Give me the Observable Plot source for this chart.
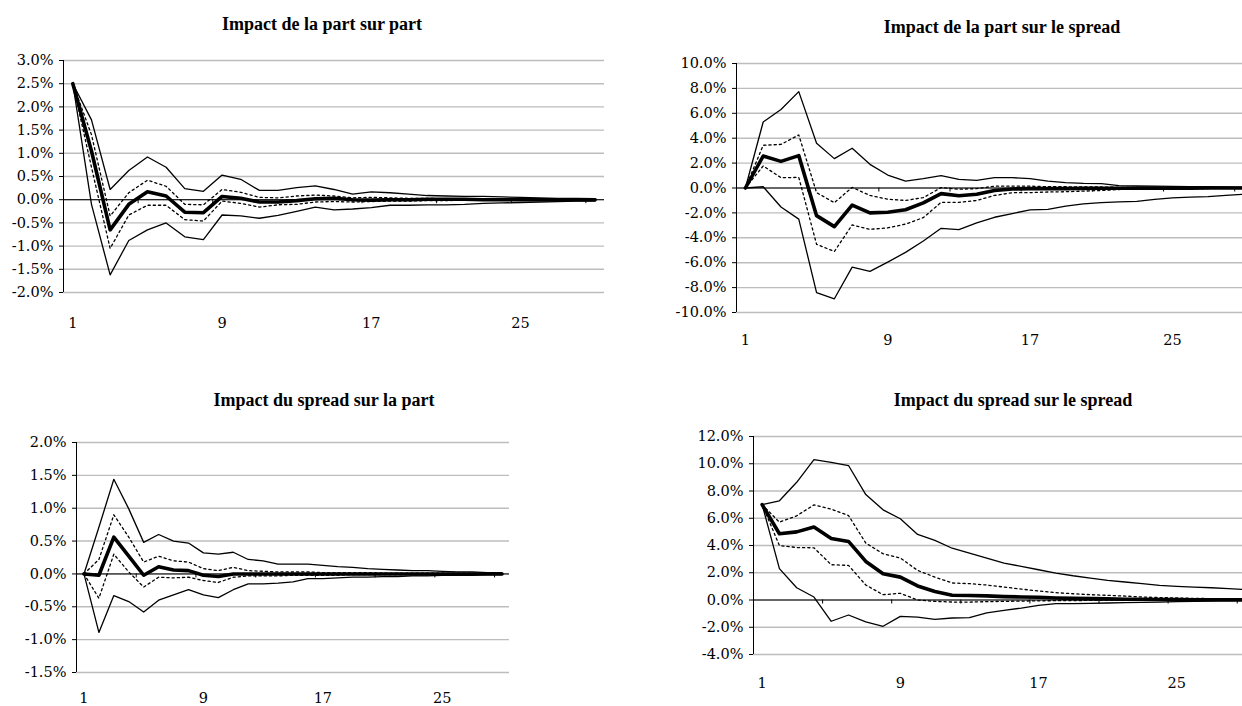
<!DOCTYPE html>
<html><head><meta charset="utf-8">
<script src="https://cdn.jsdelivr.net/npm/d3@7"></script>
<script src="https://cdn.jsdelivr.net/npm/@observablehq/plot@0.6"></script>
<style>
html,body{margin:0;padding:0;background:#fff;overflow:hidden;width:1242px;height:706px;}
body{position:relative;}
.panel{position:absolute;}
.title{position:absolute;font-family:"Liberation Serif",serif;font-weight:bold;font-size:18px;white-space:nowrap;transform:translate(-50%,-50%);color:#000;}
</style></head><body>
<script>
// ---------- data ----------
const periods = d3.range(1, 30); // 1..29
const xTickLabels = [1, 9, 17, 25];
const xTickMarks = [0.5, 4.5, 8.5, 12.5, 16.5, 20.5, 24.5, 28.5];

const titles = [
  "Impact de la part sur part",
  "Impact de la part sur le spread",
  "Impact du spread sur la part",
  "Impact du spread sur le spread"
];

const yTicksPP = [-2, -1.5, -1, -0.5, 0, 0.5, 1, 1.5, 2, 2.5, 3];
const yTicksPS = [-10, -8, -6, -4, -2, 0, 2, 4, 6, 8, 10];
const yTicksSP = [-1.5, -1, -0.5, 0, 0.5, 1, 1.5, 2];
const yTicksSS = [-4, -2, 0, 2, 4, 6, 8, 10, 12];

// Impact de la part sur part (%)
const ppCentral  = [2.5, 1.05, -0.65, -0.1, 0.17, 0.08, -0.27, -0.28, 0.07, 0.03, -0.05, -0.05, -0.02, 0.02, 0.03, 0.0, -0.01, 0.0, 0.0, 0.01, 0.01, 0.01, 0.0, 0.0, 0.0, 0.0, 0.0, 0.0, 0.0];
const ppUpper    = [2.5, 1.72, 0.22, 0.63, 0.92, 0.70, 0.24, 0.18, 0.53, 0.44, 0.2, 0.2, 0.26, 0.3, 0.22, 0.12, 0.17, 0.15, 0.12, 0.09, 0.08, 0.07, 0.07, 0.06, 0.05, 0.04, 0.03, 0.03, 0.02];
const ppLower    = [2.5, -0.1, -1.62, -0.88, -0.65, -0.5, -0.8, -0.86, -0.33, -0.35, -0.4, -0.34, -0.25, -0.16, -0.22, -0.2, -0.17, -0.12, -0.12, -0.11, -0.11, -0.1, -0.08, -0.07, -0.06, -0.05, -0.04, -0.03, -0.03];
const ppUpperDot = [2.5, 1.4, -0.35, 0.15, 0.42, 0.29, -0.1, -0.11, 0.22, 0.16, 0.05, 0.04, 0.08, 0.1, 0.08, 0.04, 0.05, 0.04, 0.03, 0.03, 0.02, 0.02, 0.02, 0.02, 0.01, 0.01, 0.01, 0.01, 0.01];
const ppLowerDot = [2.5, 0.7, -1.05, -0.33, -0.12, -0.12, -0.43, -0.46, -0.03, -0.08, -0.16, -0.11, -0.1, -0.05, -0.04, -0.05, -0.04, -0.03, -0.03, -0.02, -0.02, -0.01, -0.01, -0.01, -0.01, -0.01, -0.01, 0.0, 0.0];

// Impact de la part sur le spread (%)
const psCentral  = [0, 2.57, 2.14, 2.6, -2.22, -3.1, -1.37, -2.0, -1.95, -1.75, -1.2, -0.45, -0.62, -0.5, -0.2, -0.08, -0.05, -0.05, -0.05, -0.03, -0.02, -0.02, -0.02, -0.01, -0.01, -0.01, 0, 0, 0];
const psUpper    = [0, 5.3, 6.3, 7.74, 3.59, 2.36, 3.19, 1.9, 1.04, 0.56, 0.75, 1.0, 0.7, 0.62, 0.83, 0.83, 0.75, 0.56, 0.43, 0.37, 0.35, 0.19, 0.16, 0.15, 0.13, 0.1, 0.1, 0.08, 0.07];
const psLower    = [0, 0.1, -1.53, -2.5, -8.4, -8.9, -6.35, -6.7, -5.95, -5.17, -4.26, -3.24, -3.35, -2.8, -2.35, -2.05, -1.75, -1.72, -1.45, -1.28, -1.18, -1.12, -1.08, -0.92, -0.8, -0.73, -0.7, -0.6, -0.5];
const psUpperDot = [0, 3.43, 3.5, 4.26, -0.37, -1.18, 0.05, -0.6, -0.9, -1.0, -0.77, 0.03, -0.1, -0.05, 0.15, 0.15, 0.15, 0.1, 0.1, 0.08, 0.08, 0.05, 0.05, 0.04, 0.03, 0.03, 0.02, 0.02, 0.02];
const psLowerDot = [0, 1.77, 0.83, 0.85, -4.52, -5.1, -2.97, -3.32, -3.2, -2.9, -2.38, -1.15, -1.15, -1.0, -0.6, -0.38, -0.37, -0.32, -0.3, -0.25, -0.2, -0.12, -0.1, -0.08, -0.06, -0.05, -0.04, -0.03, -0.02];

// Impact du spread sur la part (%)
const spCentral  = [0, -0.02, 0.56, 0.27, -0.02, 0.11, 0.06, 0.05, -0.02, -0.04, 0.0, 0.0, 0.0, 0.0, 0.0, 0.0, 0.0, 0.0, 0.0, 0.0, 0.0, 0.0, 0.0, 0.0, 0.0, 0.0, 0.0, 0.0, 0.0];
const spUpper    = [0, 0.71, 1.44, 0.99, 0.48, 0.6, 0.5, 0.47, 0.32, 0.3, 0.33, 0.22, 0.2, 0.15, 0.15, 0.15, 0.13, 0.11, 0.1, 0.08, 0.07, 0.06, 0.05, 0.05, 0.04, 0.03, 0.03, 0.02, 0.02];
const spLower    = [0, -0.89, -0.33, -0.42, -0.58, -0.4, -0.32, -0.24, -0.32, -0.36, -0.24, -0.15, -0.15, -0.14, -0.12, -0.07, -0.07, -0.06, -0.05, -0.05, -0.04, -0.04, -0.03, -0.03, -0.02, -0.02, -0.02, -0.01, -0.01];
const spUpperDot = [0, 0.22, 0.9, 0.56, 0.18, 0.27, 0.2, 0.18, 0.08, 0.05, 0.1, 0.05, 0.04, 0.03, 0.03, 0.03, 0.02, 0.02, 0.02, 0.02, 0.01, 0.01, 0.01, 0.01, 0.01, 0.01, 0.01, 0.01, 0.01];
const spLowerDot = [0, -0.37, 0.3, 0.03, -0.2, -0.05, -0.06, -0.05, -0.1, -0.13, -0.05, -0.03, -0.03, -0.03, -0.02, -0.02, -0.02, -0.02, -0.01, -0.01, -0.01, -0.01, -0.01, -0.01, 0, 0, 0, 0, 0];

// Impact du spread sur le spread (%)
const ssCentral  = [7.0, 4.86, 5.0, 5.35, 4.52, 4.3, 2.83, 1.93, 1.68, 1.03, 0.63, 0.35, 0.33, 0.3, 0.25, 0.22, 0.2, 0.15, 0.12, 0.1, 0.08, 0.06, 0.05, 0.04, 0.03, 0.02, 0.02, 0.01, 0.01];
const ssUpper    = [7.0, 7.28, 8.64, 10.3, 10.1, 9.87, 7.74, 6.62, 5.96, 4.81, 4.37, 3.8, 3.44, 3.08, 2.71, 2.47, 2.22, 1.98, 1.78, 1.61, 1.44, 1.32, 1.2, 1.07, 1.0, 0.95, 0.9, 0.83, 0.76];
const ssLower    = [7.0, 2.3, 0.9, 0.22, -1.56, -1.1, -1.6, -1.93, -1.2, -1.25, -1.42, -1.32, -1.3, -0.95, -0.76, -0.59, -0.39, -0.27, -0.27, -0.25, -0.22, -0.2, -0.18, -0.15, -0.12, -0.1, -0.08, -0.05, -0.02];
const ssUpperDot = [7.0, 5.71, 6.18, 6.98, 6.67, 6.2, 4.18, 3.39, 3.08, 2.17, 1.68, 1.25, 1.2, 1.1, 0.95, 0.8, 0.66, 0.54, 0.46, 0.39, 0.34, 0.29, 0.22, 0.18, 0.15, 0.12, 0.1, 0.08, 0.06];
const ssLowerDot = [7.0, 4.0, 3.85, 3.83, 2.59, 2.54, 1.1, 0.39, 0.49, 0.0, -0.1, -0.15, -0.15, -0.12, -0.1, -0.08, -0.06, -0.05, -0.04, -0.03, -0.02, -0.02, -0.02, -0.01, -0.01, -0.01, 0.0, 0.0, 0.0];

// ---------- layout ----------
const panels = [
  {title: titles[0], titleX: 322, titleY: 24, left: 0, top: 0, width: 620, height: 340,
   mt: 60, mb: 48, ml: 63, mr: 16, dom: [-2, 3], ticks: yTicksPP, xpad: 25,
   series: [ppUpper, ppLower, ppUpperDot, ppLowerDot, ppCentral]},
  {title: titles[1], titleX: 1002, titleY: 27, left: 640, top: 0, width: 620, height: 350,
   mt: 63, mb: 38, ml: 96, mr: 8, dom: [-10, 10], ticks: yTicksPS, xpad: 22,
   series: [psUpper, psLower, psUpperDot, psLowerDot, psCentral]},
  {title: titles[2], titleX: 324, titleY: 400, left: 0, top: 380, width: 620, height: 326,
   mt: 62, mb: 34, ml: 76, mr: 111, dom: [-1.5, 2], ticks: yTicksSP, xpad: 20,
   series: [spUpper, spLower, spUpperDot, spLowerDot, spCentral]},
  {title: titles[3], titleX: 1013, titleY: 400, left: 640, top: 380, width: 620, height: 326,
   mt: 56, mb: 52, ml: 113, mr: 6, dom: [-4, 12], ticks: yTicksSS, xpad: 23,
   series: [ssUpper, ssLower, ssUpperDot, ssLowerDot, ssCentral]}
];

const fmt = d => d.toFixed(1) + "%";

for (const p of panels) {
  const rows = p.series.map(s => periods.map((t, i) => ({t, v: s[i]})));
  const [up, lo, upD, loD, ce] = rows;
  const thin = {x: "t", y: "v", stroke: "black", strokeWidth: 1.3, curve: "linear"};
  const dot = {...thin, strokeDasharray: "2.2,3"};
  const chart = Plot.plot({
    width: p.width, height: p.height,
    marginTop: p.mt, marginBottom: p.mb, marginLeft: p.ml, marginRight: p.mr,
    style: {fontFamily: "'DejaVu Serif', serif", fontSize: "14.5px", color: "black", background: "white", maxWidth: "none", overflow: "hidden"},
    x: {domain: [0.5, 29.5], axis: null},
    y: {domain: p.dom, axis: null},
    marks: [
      Plot.gridY(p.ticks, {stroke: "#bdbdbd", strokeOpacity: 1, strokeWidth: 1.4}),
      Plot.ruleY([0], {stroke: "black", strokeWidth: 1}),
      Plot.ruleX([0.5], {stroke: "black", strokeWidth: 1}),
      Plot.axisY(p.ticks, {tickFormat: fmt, tickSize: 4, tickPadding: 6, stroke: "black", fontSize: 14.5, label: null}),
      Plot.axisX(xTickLabels, {tickSize: 0, tickPadding: p.xpad, fontSize: 14.5, label: null}),
      Plot.ruleX(xTickMarks, {y1: 0, y2: 0, insetBottom: -4, stroke: "black", strokeWidth: 1}),
      Plot.line(up, thin),
      Plot.line(lo, thin),
      Plot.line(upD, dot),
      Plot.line(loD, dot),
      Plot.line(ce, {x: "t", y: "v", stroke: "black", strokeWidth: 3.6})
    ]
  });
  const div = document.createElement("div");
  div.className = "panel";
  div.style.left = p.left + "px";
  div.style.top = p.top + "px";
  div.style.width = p.width + "px";
  div.appendChild(chart);
  document.body.appendChild(div);
  const t = document.createElement("div");
  t.className = "title";
  t.style.left = p.titleX + "px";
  t.style.top = p.titleY + "px";
  t.textContent = p.title;
  document.body.appendChild(t);
}
</script>
</body></html>
